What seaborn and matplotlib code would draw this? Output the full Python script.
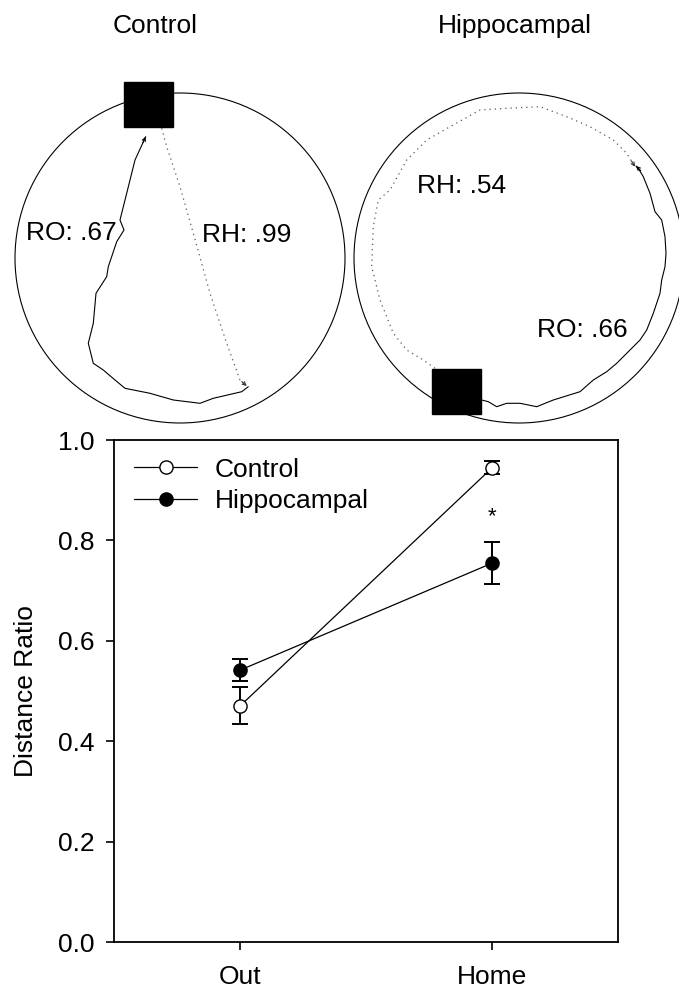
import numpy as np
import pandas as pd
import matplotlib
matplotlib.use("Agg")
import matplotlib.pyplot as plt
import seaborn as sns
from matplotlib.patches import Circle, Rectangle
from matplotlib.lines import Line2D

# ---------------- data ----------------
conditions = ["Out", "Home"]
groups = ["Control", "Hippocampal"]
control_mean = [0.471, 0.945]
control_sem = [0.037, 0.013]
hippocampal_mean = [0.542, 0.755]
hippocampal_sem = [0.022, 0.041]
yticks = [0.0, 0.2, 0.4, 0.6, 0.8, 1.0]
sig_y = 0.847  # asterisk above Home

# arena tracking coordinates (camera pixels, y downward)
arena_radius = 165
control_center = (180, 258)
hippo_center = (519, 258)
control_base = (148.5, 104.5)
hippo_base = (456.5, 391.5)
base_size = (49, 45)

control_ro_x = [145.7, 135, 126.7, 120, 124, 116.7, 108.3, 106.7, 96, 93.3, 88.3, 93.3, 103.3,
                115, 125, 150, 173.3, 200, 213.3, 241.7, 248.3]
control_ro_y = [136.7, 160, 193.3, 220, 230, 241.7, 266.7, 276.7, 293.3, 323.3, 343.3, 363.3, 370,
                380, 388.3, 393.3, 400, 403.3, 398.3, 391.7, 386.7]
control_rh_x = [161.7, 166.7, 180, 193.3, 210, 226.7, 240, 246.7]
control_rh_y = [128.3, 146.7, 186.7, 233.3, 293.3, 343.3, 380, 386]

hippo_ro_x = [481.7, 488.3, 496.7, 506.7, 520, 536.7, 553.3, 580, 593.3, 606.7, 616.7, 630, 640,
              646.7, 653.3, 660, 661.7, 665, 666, 665, 661.7, 655, 650, 643.3, 638.3, 636]
hippo_ro_y = [400, 401.7, 406.7, 403.3, 403.3, 406.7, 400, 391.7, 380, 371.7, 363.3, 350, 340,
              330, 313.3, 293.3, 280, 266.7, 253.3, 236.7, 220, 211.7, 193.3, 176.7, 168.3, 166]
hippo_rh_x = [435, 423.3, 406.7, 393.3, 380, 371.7, 373.3, 378.3, 390, 406.7, 426.7, 450, 480,
              506.7, 540, 566.7, 590, 613.3, 626.7, 635]
hippo_rh_y = [368.3, 360, 350, 333.3, 300, 266.7, 226.7, 200, 190, 160, 140, 126.7, 110,
              108.3, 106.7, 116.7, 126.7, 140, 153.3, 166.7]

# ---------------- style ----------------
sns.set_style("ticks")
plt.rcParams["font.family"] = ["Liberation Sans", "DejaVu Sans"]
plt.rcParams["text.color"] = "black"
plt.rcParams["axes.labelcolor"] = "black"
plt.rcParams["xtick.color"] = "black"
plt.rcParams["ytick.color"] = "black"
plt.rcParams["axes.edgecolor"] = "black"
FS = 19

W, H = 679, 991
fig = plt.figure(figsize=(W / 100, H / 100), dpi=100)

# ---------------- main line plot ----------------
ax_l, ax_r, ax_t, ax_b = 114.3, 618.3, 440, 942.3
ax = fig.add_axes([ax_l / W, 1 - ax_b / H, (ax_r - ax_l) / W, (ax_b - ax_t) / H])

xpos = np.arange(len(conditions))
df = pd.DataFrame({
    "pos": np.concatenate([xpos, xpos]),
    "ratio": control_mean + hippocampal_mean,
    "group": [groups[0]] * 2 + [groups[1]] * 2,
})

ax.errorbar(xpos, control_mean, yerr=control_sem, fmt="none", ecolor="black",
            elinewidth=1.4, capsize=5.5, capthick=1.4, zorder=2)
ax.errorbar(xpos, hippocampal_mean, yerr=hippocampal_sem, fmt="none", ecolor="black",
            elinewidth=1.4, capsize=5.5, capthick=1.4, zorder=2)

sns.lineplot(data=df[df.group == groups[0]], x="pos", y="ratio", ax=ax, color="black",
             marker="o", markersize=9.5, markerfacecolor="white", markeredgecolor="black",
             markeredgewidth=1.0, linewidth=0.9, zorder=3, legend=False)
sns.lineplot(data=df[df.group == groups[1]], x="pos", y="ratio", ax=ax, color="black",
             marker="o", markersize=9.5, markerfacecolor="black", markeredgecolor="black",
             markeredgewidth=1.0, linewidth=0.9, zorder=3, legend=False)

ax.text(xpos[1], sig_y, "*", ha="center", va="center", fontsize=16, color="black")

ax.set_xlim(-0.5, 1.5)
ax.set_ylim(0, 1.0)
ax.set_xticks(xpos)
ax.set_xticklabels(conditions)
ax.set_yticks(yticks)
ax.set_yticklabels([f"{v:.1f}" for v in yticks])
ax.set_xlabel("")
ax.set_ylabel("Distance Ratio", fontsize=FS, labelpad=14, color="black")
ax.tick_params(axis="both", labelsize=FS, direction="out", length=5.5, width=1.2,
               color="black", labelcolor="black")
ax.tick_params(axis="y", pad=9)
ax.tick_params(axis="x", pad=11)
for s in ax.spines.values():
    s.set_visible(True)
    s.set_linewidth(1.3)
    s.set_color("black")

handles = [
    Line2D([], [], color="black", lw=0.9, marker="o", ms=9.5, mfc="white", mec="black"),
    Line2D([], [], color="black", lw=0.9, marker="o", ms=9.5, mfc="black", mec="black"),
]
leg = ax.legend(handles, groups, loc="upper left", bbox_to_anchor=(0.039, 0.965), frameon=False,
                fontsize=FS, handlelength=2.4, handletextpad=0.65, labelspacing=0.28,
                borderpad=0, borderaxespad=0)
for t in leg.get_texts():
    t.set_color("black")

# ---------------- arenas ----------------
R = arena_radius
EXT = 1.12


def arena_axes(center):
    cx, cy = center
    e = R * EXT
    a = fig.add_axes([(cx - e) / W, 1 - (cy + e) / H, 2 * e / W, 2 * e / H])
    a.set_xlim(-EXT, EXT)
    a.set_ylim(-EXT, EXT)
    a.axis("off")
    return a


def norm(xs, ys, center):
    cx, cy = center
    return (np.asarray(xs) - cx) / R, (cy - np.asarray(ys)) / R


def arrowhead(a, xs, ys, color, at_start):
    if at_start:
        tip, prev = (xs[0], ys[0]), (xs[1], ys[1])
    else:
        tip, prev = (xs[-1], ys[-1]), (xs[-2], ys[-2])
    d = np.array(tip) - np.array(prev)
    d = d / np.hypot(*d) * 0.04
    a.annotate("", xy=tip, xytext=(tip[0] - d[0], tip[1] - d[1]),
               arrowprops=dict(arrowstyle="->", color=color, lw=0.8, mutation_scale=6,
                               shrinkA=0, shrinkB=0))


def draw_arena(center, base, ro, rh, labels, ro_arrow_start, rh_arrow_start):
    a = arena_axes(center)
    a.add_patch(Circle((0, 0), 1, fill=False, ec="black", lw=0.8))
    bx, by = norm([base[0]], [base[1]], center)
    bw, bh = base_size[0] / R, base_size[1] / R
    a.add_patch(Rectangle((bx[0] - bw / 2, by[0] - bh / 2), bw, bh, color="black", zorder=4))
    rx, ry = norm(*ro, center)
    a.plot(rx, ry, color="black", lw=0.8)
    arrowhead(a, rx, ry, "black", ro_arrow_start)
    hx, hy = norm(*rh, center)
    a.plot(hx, hy, color="0.35", lw=0.9, linestyle=(0, (1, 3.2)))
    arrowhead(a, hx, hy, "0.2", rh_arrow_start)
    for (tx, ty, t) in labels:
        px, py = norm([tx], [ty], center)
        a.text(px[0], py[0], t, ha="center", va="baseline", fontsize=FS, color="black")
    return a


draw_arena(control_center, control_base, (control_ro_x, control_ro_y),
           (control_rh_x, control_rh_y),
           [(71.5, 240, "RO: .67"), (246.5, 242, "RH: .99")], True, False)
draw_arena(hippo_center, hippo_base, (hippo_ro_x, hippo_ro_y),
           (hippo_rh_x, hippo_rh_y),
           [(461.5, 193, "RH: .54"), (582.5, 337, "RO: .66")], False, False)

fig.text(155 / W, 1 - 33 / H, groups[0], ha="center", va="baseline", fontsize=FS, color="black")
fig.text(514.5 / W, 1 - 33 / H, groups[1], ha="center", va="baseline", fontsize=FS, color="black")

fig.savefig("out.png", dpi=100, facecolor="white")
